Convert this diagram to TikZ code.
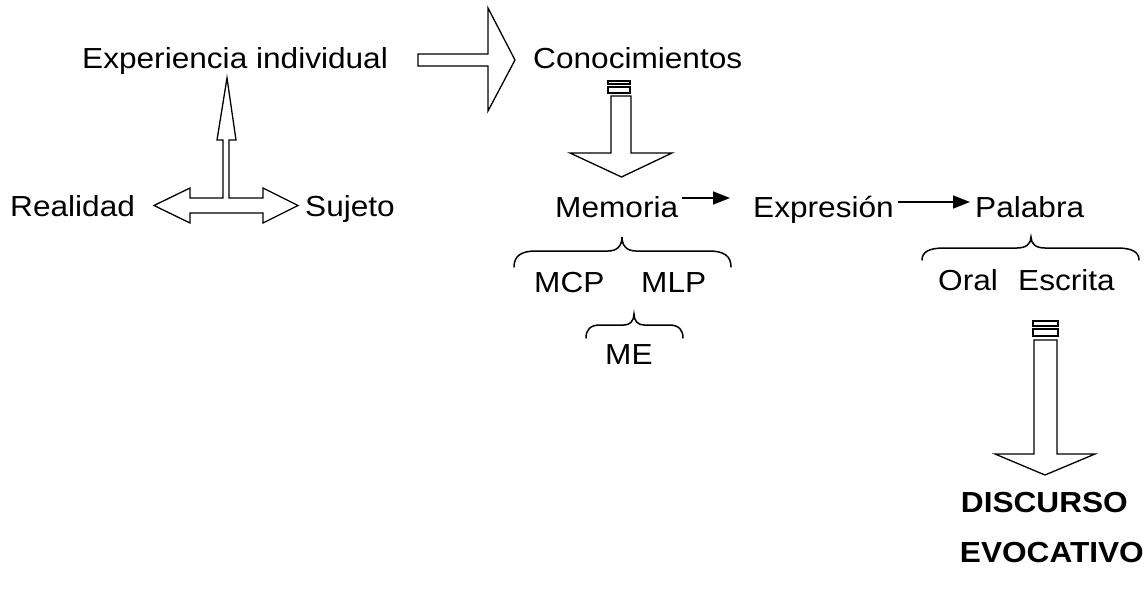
\documentclass[tikz,border=0pt]{standalone}
\usepackage{fontspec}
\setmainfont{Liberation Sans}
\usetikzlibrary{arrows.meta}
\newcommand{\wide}[1]{\scalebox{1.09}[1]{#1}}
\begin{document}
\begin{tikzpicture}[x=1pt,y=-1pt,
  lbl/.style={anchor=base west, inner sep=0pt, font=\fontsize{29}{34}\selectfont},
  bold/.style={anchor=base east, inner sep=0pt, font=\fontsize{29}{34}\selectfont\bfseries},
  blk/.style={draw, line width=1.3pt, line join=miter, fill=white},
  brace/.style={draw, line width=1.5pt, line cap=round},
  conn/.style={line width=1.6pt, -{Triangle[length=17pt,width=13pt]}}]
\useasboundingbox (0,0) rectangle (1144,590);

% labels
\node[lbl] (exp)  at (82,68)   {\wide{Experiencia individual}};
\node[lbl] (con)  at (533,68)  {\wide{Conocimientos}};
\node[lbl] (real) at (10,216)  {\wide{Realidad}};
\node[lbl] (suj)  at (305,216) {\wide{Sujeto}};
\node[lbl] (mem)  at (555,217) {\wide{Memoria}};
\node[lbl] (expr) at (753,217) {\wide{Expresión}};
\node[lbl] (pal)  at (975,217) {\wide{Palabra}};
\node[lbl] (mcp)  at (534,292) {\wide{MCP}};
\node[lbl] (mlp)  at (641,292) {\wide{MLP}};
\node[lbl] (me)   at (605,364) {\wide{ME}};
\node[lbl] (oral) at (938,290) {\wide{Oral}};
\node[lbl] (esc)  at (1018,290) {\wide{Escrita}};
\node[bold] (disc) at (1128,512) {\wide{DISCURSO}};
\node[bold] (evo)  at (1144,562) {\wide{EVOCATIVO}};

% block arrow: experience -> knowledge
\draw[blk] (418,54) -- (488,54) -- (488,8) -- (515,60) -- (488,111)
  -- (488,66) -- (418,66) -- cycle;

% T-shaped block arrow: reality <-> subject, up to experience
\draw[blk] (190,198) -- (223,198) -- (223,140) -- (217,140) -- (227,78)
  -- (236,140) -- (229,140) -- (229,198) -- (263,198) -- (263,188)
  -- (298,205.5) -- (263,223) -- (263,213) -- (190,213) -- (190,223)
  -- (154,205.5) -- (190,188) -- cycle;

% striped block arrow: knowledge -> memory
\draw[blk] (608,81) rectangle (630,84);
\draw[blk] (608,87) rectangle (630,93);
\draw[blk] (611,96) -- (631,96) -- (631,153) -- (672,153) -- (621.5,177)
  -- (570,153) -- (611,153) -- cycle;

% striped block arrow: word -> discourse
\draw[blk] (1033,321) rectangle (1058,326);
\draw[blk] (1033,329) rectangle (1058,336);
\draw[blk] (1034,340) -- (1057,340) -- (1057,454) -- (1095,454) -- (1045,475)
  -- (995,454) -- (1034,454) -- cycle;

% plain connectors
\coordinate (m2e-a) at (682,198);
\coordinate (m2e-b) at (730,198);
\coordinate (e2p-a) at (898,202);
\coordinate (e2p-b) at (970,202);
\draw[conn] (m2e-a) -- (m2e-b);
\draw[conn] (e2p-a) -- (e2p-b);

% braces
\draw[brace] (514,267) .. controls (514,256) and (521,251) .. (536,251)
  -- (608,251) .. controls (617,251) and (622,246) .. (622,237)
  .. controls (622,246) and (627,251) .. (636,251)
  -- (709,251) .. controls (724,251) and (731,256) .. (731,267);
\draw[brace] (586,338) .. controls (586,330) and (590,325) .. (600,325)
  -- (624,325) .. controls (630,325) and (634,321) .. (634,314)
  .. controls (634,321) and (638,325) .. (644,325)
  -- (669,325) .. controls (679,325) and (683,330) .. (683,338);
\draw[brace] (922,260) .. controls (922,252) and (929,248) .. (944,248)
  -- (1017,248) .. controls (1026,248) and (1031,244) .. (1031,237)
  .. controls (1031,244) and (1036,248) .. (1045,248)
  -- (1117,248) .. controls (1132,248) and (1139,252) .. (1139,260);
\end{tikzpicture}
\end{document}
